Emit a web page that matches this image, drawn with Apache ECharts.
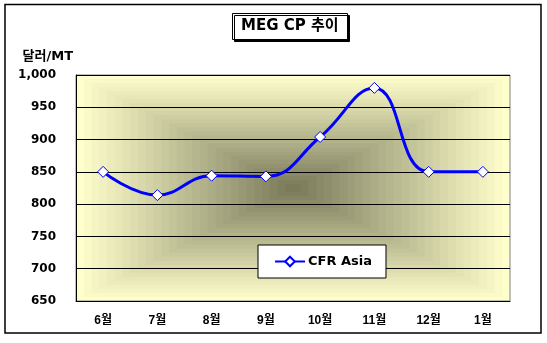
<!DOCTYPE html>
<html><head><meta charset="utf-8">
<script src="https://cdn.jsdelivr.net/npm/echarts@6/dist/echarts.min.js"></script>
<style>html,body{margin:0;padding:0;background:#fff}#c{width:547px;height:343px}</style>
</head><body><div id="c"></div>
<script>
var categories = ['6월','7월','8월','9월','10월','11월','12월','1월'];
var cfrAsia = [850, 814, 844, 843, 904, 980, 850, 850];
var seriesName = 'CFR Asia';
var titleText = 'MEG CP 추이';
var yName = '달러/MT';

var G = {left: 76, top: 75, width: 434, height: 226};
var edge = [255, 255, 204], center = [118, 118, 88];
var steps = 28;
var bg = [];
for (var i = 0; i < steps; i++) {
  var t = 1 - i / steps;
  var w = G.width * t, h = G.height * t;
  var c = edge.map(function (e, k) { return Math.round(center[k] + (e - center[k]) * t); });
  bg.push({type: 'rect', z: -10, silent: true,
    shape: {x: G.left + (G.width - w) / 2, y: G.top + (G.height - h) / 2, width: w, height: h},
    style: {fill: 'rgb(' + c.join(',') + ')'}});
}
bg.push({type: 'rect', z: -10, silent: true, shape: {x: 5, y: 4.5, width: 536, height: 328.5},
  style: {fill: null, stroke: '#000', lineWidth: 1.5}});

var font = "'Liberation Sans', 'Noto Sans CJK KR', sans-serif";
var wide = "'DejaVu Sans', 'Noto Sans CJK KR', sans-serif";
var chart = echarts.init(document.getElementById('c'));
chart.setOption({
  animation: false,
  textStyle: {fontFamily: font},
  graphic: bg,
  title: {
    text: titleText, left: 232, top: 13,
    padding: [6, 9, 6, 9],
    borderColor: '#000', borderWidth: 1, backgroundColor: '#fff',
    shadowColor: '#000', shadowOffsetX: 2, shadowOffsetY: 2, shadowBlur: 0,
    textStyle: {fontFamily: wide, fontSize: 15, fontWeight: 'bold', color: '#000'}
  },
  legend: {
    left: 258, top: 245, padding: [10, 14, 10, 16],
    backgroundColor: '#fff', borderColor: '#000', borderWidth: 1,
    itemWidth: 30, itemHeight: 12, itemGap: 4, z: 20,
    textStyle: {fontFamily: wide, fontSize: 13, fontWeight: 'bold', color: '#000', padding: [0, 0, 0, -2]},
    data: [seriesName]
  },
  grid: {left: G.left, top: G.top, width: G.width, height: G.height, show: true,
    borderColor: '#808080', borderWidth: 1, backgroundColor: 'transparent'},
  xAxis: {
    type: 'category', data: categories, boundaryGap: true, z: 5,
    axisLine: {lineStyle: {color: '#000', width: 1}},
    axisTick: {inside: true, length: 4, lineStyle: {color: '#000'}},
    axisLabel: {margin: 14, fontSize: 12, fontWeight: 'bold', color: '#000', fontFamily: font}
  },
  yAxis: {
    type: 'value', min: 650, max: 1000, interval: 50, z: 5,
    name: yName, nameLocation: 'end', nameGap: 18,
    nameTextStyle: {align: 'right', verticalAlign: 'middle', padding: [0, 3, 0, 0], fontSize: 13, fontWeight: 'bold', color: '#000', fontFamily: wide},
    axisLine: {show: true, lineStyle: {color: '#000', width: 1}},
    axisTick: {show: false},
    splitLine: {lineStyle: {color: '#000', width: 1}},
    axisLabel: {margin: 20, fontSize: 12, fontWeight: 'bold', color: '#000', fontFamily: wide,
      formatter: function (v) { return v.toLocaleString('en-US'); }}
  },
  series: [{
    name: seriesName, type: 'line', data: cfrAsia, smooth: 0.45, z: 10,
    symbol: 'diamond', symbolSize: 11,
    lineStyle: {color: '#0000ff', width: 3},
    itemStyle: {color: '#fff', borderColor: '#0000ff', borderWidth: 1}
  }]
});
</script></body></html>
